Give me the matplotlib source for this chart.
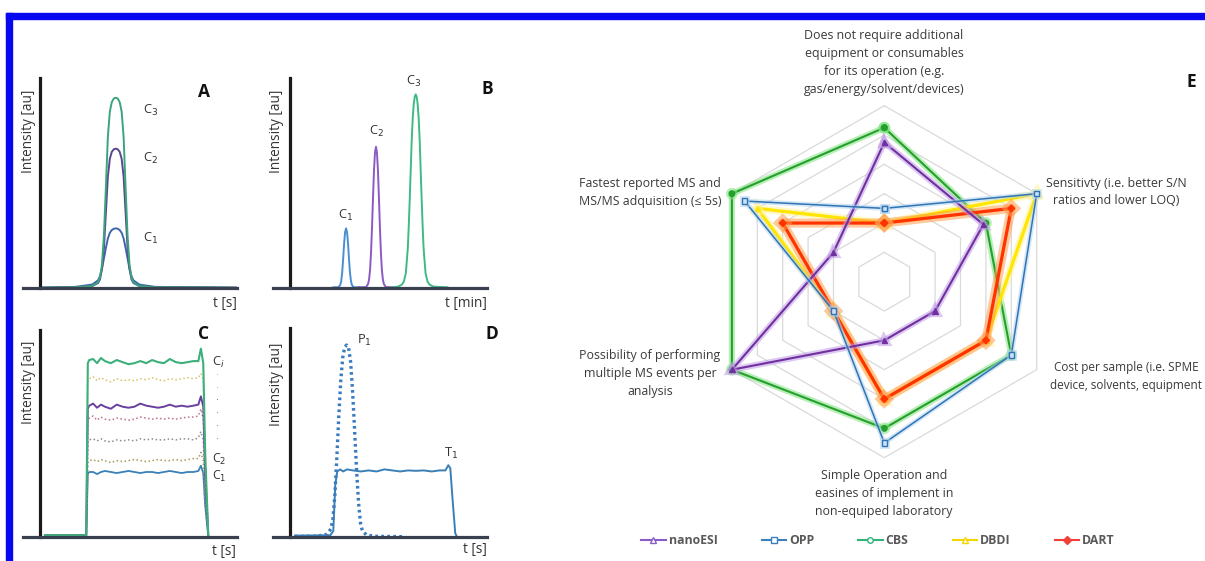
import numpy as np
import matplotlib
matplotlib.use("Agg")
import matplotlib.pyplot as plt
import matplotlib.patheffects as pe
from matplotlib.lines import Line2D
from matplotlib.patches import Rectangle

plt.rcParams['font.family'] = ['Open Sans', 'DejaVu Sans']

W, H = 1205, 561

# =============================================================================
# data, panel A (same retention time, different concentration)
# =============================================================================
a_t = [0, 18, 26.5, 29.5, 30.5, 31.5, 32.5, 33.5, 34.5, 35.5, 36.5, 37.5, 38.5,
       39.5, 40.5, 41.5, 42.5, 43.5, 44.5, 45.5, 46.5, 47.5, 50.5, 58.5, 100]
a_c3 = [0, 0.2, 0.8, 2.5, 5, 11, 25, 48, 72, 84, 88.5, 90.2, 90.6,
        90.2, 88.5, 84, 72, 48, 25, 11, 5, 2.5, 0.8, 0.2, 0]
a_c2 = [0, 0.2, 0.8, 2.2, 4, 9, 19, 36, 53, 61.5, 64.8, 66, 66.3,
        66, 64.8, 61.5, 53, 36, 19, 9, 4, 2.2, 0.8, 0.2, 0]
a_c1 = [0, 0.4, 1.5, 3.5, 5.5, 9, 14, 19, 23.5, 26.2, 27.5, 28.1, 28.3,
        28.1, 27.5, 26.2, 23.5, 19, 14, 9, 5.5, 3.5, 1.5, 0.4, 0]

# =============================================================================
# data, panel B (separated peaks)
# =============================================================================
b_c1_t = [22, 24.5, 25.5, 26, 26.5, 27, 27.5, 28, 28.5, 29, 29.5, 30, 30.5, 31, 31.5, 32.5, 35]
b_c1_i = [0.2, 0.2, 1.2, 3, 7, 13.5, 21, 26.5, 28.3, 26.5, 21, 13.5, 7, 3, 1.2, 0.2, 0.2]
b_c2_t = [35, 38.7, 39.7, 40.2, 40.7, 41.2, 41.7, 42.2, 42.7, 43.2, 43.7, 44.2, 44.7,
          45.2, 45.7, 46.2, 46.7, 47.2, 47.7, 48.7, 52]
b_c2_i = [0.2, 0.3, 1.8, 4, 8.5, 17, 29, 43, 56, 64.5, 67.2, 64.5, 56,
          43, 29, 17, 8.5, 4, 1.8, 0.3, 0.2]
b_c3_t = [52, 54.9, 56.9, 57.9, 58.9, 59.9, 60.4, 60.9, 61.4, 61.9, 62.4, 62.9, 63.4, 63.9,
          64.4, 64.9, 65.4, 65.9, 66.4, 66.9, 67.4, 67.9, 68.9, 69.9, 70.9, 72.9, 80]
b_c3_i = [0.2, 0.5, 1.5, 3, 7, 19, 30, 43, 57, 71, 81, 87.5, 91, 92.2,
          91, 87.5, 81, 71, 57, 43, 30, 19, 7, 3, 1.5, 0.5, 0.2]

# =============================================================================
# data, panel C (continuous infusion, several concentrations)
# =============================================================================
c_t = [2.5, 23.5, 24.3, 25, 27, 29, 31, 33, 36, 39, 42, 45, 48, 51, 54, 57, 60,
       63, 66, 69, 72, 75, 78, 80.5, 81.8, 83, 84, 85.6]
c_green = [1, 1, 84, 85.5, 86, 84, 86.5, 85, 84, 85.5, 84.5, 83.5, 84, 85, 84, 85.5, 84.5,
           84, 86, 84.5, 84, 84.5, 85, 85, 91, 84, 40, 0]
c_yellow = [1, 1, 75, 76.5, 77.5, 75.5, 77, 76, 75, 76.5, 75.5, 76, 75.5, 76.5, 76, 77, 76,
            75.5, 76.5, 76, 76.5, 77, 76.5, 77, 79, 76, 35, 0]
c_purple = [1, 1, 62, 63.5, 64.5, 62.5, 64, 63, 62, 64, 63, 62.5, 63, 64.5, 63.5, 63, 62.5,
            63, 64, 63, 63.5, 63, 63.5, 64, 68, 63, 30, 0]
c_pink = [1, 1, 56, 57.5, 58.5, 56.5, 58, 57, 56.5, 57.5, 57, 56.5, 57, 58, 57.5, 57, 57.5,
          57, 57.5, 57, 57.5, 58, 58, 58.5, 62, 57, 28, 0]
c_gray = [1, 1, 46, 47, 47.5, 46.5, 47.5, 46.5, 46, 47, 46.5, 47, 46.5, 47.5, 47, 47.5, 47,
          47, 47.5, 47, 47.5, 47.5, 47, 48, 51, 47, 23, 0]
c_olive = [1, 1, 36, 37, 37.5, 36.5, 37.5, 37, 36, 37, 36.5, 37, 37.5, 37, 36.5, 37, 37.5,
           37, 37, 37.5, 37, 37.5, 38, 38, 41, 37, 18, 0]
c_blue = [1, 1, 30.5, 31.5, 31.5, 30.5, 31.5, 32, 31.5, 31, 31.5, 32, 31.5, 31, 31.5, 31.5, 31,
          31.5, 32, 31.5, 31, 31.5, 31.5, 32, 34.5, 31, 15, 0]

# =============================================================================
# data, panel D (peak P1 vs. plateau T1)
# =============================================================================
d_t1_t = [2.5, 20.5, 22, 23, 24, 25.5, 27, 29, 32, 36, 40, 44, 48, 52, 56, 60, 64, 68,
          72, 76, 79, 80.5, 81.5, 82.5, 84, 85]
d_t1_i = [0.8, 1, 3, 25, 31.5, 32.5, 31.5, 32.5, 32, 31.5, 32, 31.5, 32.5, 32, 31.5, 32, 31.8, 32,
          31.5, 32, 32, 34.5, 33, 20, 2, 0]
d_p1_t = [2.5, 13.8, 18.8, 20.8, 21.8, 22.8, 23.8, 24.8, 25.8, 26.8, 27.8, 28.8, 29.8,
          30.8, 31.8, 32.8, 33.8, 34.8, 35.8, 36.8, 38.8, 42.8, 57.5]
d_p1_i = [0.5, 0.5, 1.5, 4, 9, 20, 38, 58, 75, 86, 91, 92, 90.5,
          84, 70, 52, 33, 17, 7, 3, 1.2, 0.5, 0.3]

# =============================================================================
# data, panel E (radar)
# =============================================================================
criteria = ["Does not require additional\nequipment or consumables\nfor its operation (e.g.\ngas/energy/solvent/devices)",
            "Sensitivty (i.e. better S/N\nratios and lower LOQ)",
            "Cost per sample (i.e. SPME\ndevice, solvents, equipment",
            "Simple Operation and\neasines of implement in\nnon-equiped laboratory",
            "Possibility of performing\nmultiple MS events per\nanalysis",
            "Fastest reported MS and\nMS/MS adquisition (\u2264 5s)"]
methods = ["nanoESI", "OPP", "CBS", "DBDI", "DART"]
nanoesi = [4.75, 3.9, 2.0, 2.0, 6.0, 2.0]
opp = [2.5, 6.0, 5.0, 5.5, 2.0, 5.5]
cbs = [5.25, 4.0, 5.0, 5.0, 6.0, 6.0]
dbdi = [2.0, 6.0, 4.0, 4.0, 2.0, 5.0]
dart = [2.0, 5.0, 4.0, 4.0, 2.0, 4.0]
rings = [1, 2, 3, 4, 5, 6]

# =============================================================================
# helpers
# =============================================================================
fig = plt.figure(figsize=(W / 100, H / 100), dpi=100)


def box(x0, y0, x1, y1):
    # pixel box (top-left origin) -> figure fraction
    return [x0 / W, 1 - y1 / H, (x1 - x0) / W, (y1 - y0) / H]


def ftext(x, y, s, **kw):
    return fig.text(x / W, 1 - y / H, s, **kw)


def chrom_axes(b):
    ax = fig.add_axes(box(*b))
    ax.set_xlim(-8.5, 100)
    ax.set_ylim(0, 100)
    ax.spines[['top', 'right']].set_visible(False)
    ax.spines['left'].set_position(('data', 0))
    ax.spines['left'].set_linewidth(2.3)
    ax.spines['left'].set_color('#1a1a1a')
    ax.spines['bottom'].set_linewidth(2.3)
    ax.spines['bottom'].set_color('#3b4050')
    ax.set_xticks([])
    ax.set_yticks([])
    ax.patch.set_alpha(0)
    return ax


txt = '#333333'
lab = dict(fontsize=9.8, color=txt)
sub = dict(fontsize=9.3, color=txt)
big = dict(fontsize=12.5, fontweight='bold', color='#111111')

# =============================================================================
# panel A
# =============================================================================
axA = chrom_axes((23.3, 78, 236.7, 287.7))
axA.plot(a_t, a_c1, color='#3d66ad', lw=1.4)
axA.plot(a_t, a_c2, color='#5a4690', lw=1.4)
axA.plot(a_t, a_c3, color='#3aa57a', lw=1.4)
ftext(28, 131, "Intensity [au]", rotation=90, ha='center', va='center', **lab)
ftext(237, 304, "t [s]", ha='right', va='center', **lab)
ftext(204, 92, "A", ha='center', va='center', **big)
ftext(143, 110, "C$_3$", va='center', **sub)
ftext(143, 158, "C$_2$", va='center', **sub)
ftext(143, 238, "C$_1$", va='center', **sub)

# =============================================================================
# panel B
# =============================================================================
axB = chrom_axes((273.3, 78, 486.7, 287.7))
axB.plot(b_c1_t, b_c1_i, color='#4a8fd0', lw=1.4)
axB.plot(b_c2_t, b_c2_i, color='#8a5cc2', lw=1.4)
axB.plot(b_c3_t, b_c3_i, color='#3dba85', lw=1.4)
ftext(277, 131, "Intensity [au]", rotation=90, ha='center', va='center', **lab)
ftext(487, 304, "t [min]", ha='right', va='center', **lab)
ftext(487, 89, "B", ha='center', va='center', **big)
ftext(346, 215, "C$_1$", ha='center', va='center', **sub)
ftext(376, 131, "C$_2$", ha='center', va='center', **sub)
ftext(414, 81, "C$_3$", ha='center', va='center', **sub)

# =============================================================================
# panel C
# =============================================================================
axC = chrom_axes((23.3, 330, 236.7, 537.3))
axC.plot(c_t, c_blue, color='#3a80b8', lw=1.3)
axC.plot(c_t, c_olive, color='#a89a5a', lw=1.1, ls=':')
axC.plot(c_t, c_gray, color='#8c8c8c', lw=1.1, ls=':')
axC.plot(c_t, c_pink, color='#c0708c', lw=1.1, ls=':')
axC.plot(c_t, c_purple, color='#6a3fa0', lw=1.4)
axC.plot(c_t, c_yellow, color='#d9c068', lw=1.1, ls=':')
axC.plot(c_t, c_green, color='#3bb07a', lw=1.5)
ftext(28, 382, "Intensity [au]", rotation=90, ha='center', va='center', **lab)
ftext(236, 551, "t [s]", ha='right', va='center', **lab)
ftext(204, 334, "C", ha='center', va='center', **big)
ftext(212, 362, "C$_i$", va='center', **sub)
for yy, cc in zip([376, 389, 401, 414, 427, 440],
                  ['#d9c068', '#d9c068', '#8a6ab0', '#c0708c', '#8c8c8c', '#8c8c8c']):
    ftext(217, yy, "\u00b7", ha='center', va='center', fontsize=8, color=cc)
ftext(212, 459, "C$_2$", va='center', fontsize=8.8, color=txt)
ftext(212, 476, "C$_1$", va='center', fontsize=8.8, color=txt)

# =============================================================================
# panel D
# =============================================================================
axD = chrom_axes((273.3, 328.3, 486.7, 537.3))
axD.plot(d_t1_t, d_t1_i, color='#3a80b8', lw=1.4)
axD.plot(d_p1_t, d_p1_i, color='#3a7bbf', lw=2.4, ls=(0, (0.8, 1.0)))
ftext(277, 384, "Intensity [au]", rotation=90, ha='center', va='center', **lab)
ftext(487, 550, "t [s]", ha='right', va='center', **lab)
ftext(492, 334, "D", ha='center', va='center', **big)
ftext(357, 340, "P$_1$", va='center', **sub)
ftext(444, 453, "T$_1$", va='center', **sub)

# =============================================================================
# panel E radar
# =============================================================================
cx, cy, half = 884.3, 281.7, 200
rx = fig.add_axes(box(cx - half, cy - half, cx + half, cy + half))
lim = half / 29.33
rx.set_xlim(-lim, lim)
rx.set_ylim(-lim, lim)
rx.set_aspect('equal')
rx.axis('off')

ang = np.deg2rad([90, 30, -30, -90, -150, 150, 90])
for r in rings:
    rx.plot(r * np.cos(ang), r * np.sin(ang), color='#dadada', lw=0.9, zorder=1)

styles = {
    "CBS": dict(vals=cbs, c='#25a02c', halo='#7fe37f', lw=1.5, m='o', ms=4, mfc='#25a02c', hw=4.5),
    "DBDI": dict(vals=dbdi, c='#ffe500', halo='#fff39a', lw=2.3, m='^', ms=4, mfc='#ffe500', hw=5.5),
    "DART": dict(vals=dart, c='#ff3300', halo='#ff9d4a', lw=2.3, m='D', ms=3.5, mfc='#ff3300', hw=6.5),
    "nanoESI": dict(vals=nanoesi, c='#7030a0', halo='#c09be6', lw=1.5, m='^', ms=4, mfc='#7030a0', hw=4.5),
    "OPP": dict(vals=opp, c='#2e75b6', halo='#b3d3f0', lw=1.1, m='s', ms=4, mfc='#cfe2f5', hw=3.5),
}
z = 3
for name in ["CBS", "DBDI", "DART", "nanoESI", "OPP"]:
    s = styles[name]
    v = np.array(s['vals'] + s['vals'][:1])
    rx.plot(v * np.cos(ang), v * np.sin(ang), color=s['c'], lw=s['lw'],
            marker=s['m'], ms=s['ms'], mfc=s['mfc'], mec=s['c'], mew=1.0, zorder=z,
            path_effects=[pe.Stroke(linewidth=s['hw'], foreground=s['halo'], alpha=0.55), pe.Normal()])
    z += 1

rl = dict(fontsize=8.9, color='#3a3a3a', ha='center', va='center', linespacing=1.5)
ftext(884, 62, criteria[0], **rl)
ftext(1116, 192, criteria[1], **rl)
ftext(1126, 376, criteria[2], **dict(rl, fontsize=8.5))
ftext(884, 494, criteria[3], **rl)
ftext(650, 374, criteria[4], **rl)
ftext(650, 192, criteria[5], **rl)
ftext(1191, 82, "E", ha='center', va='center', **big)

# legend
leg_c = {"nanoESI": '#8a5cc8', "OPP": '#3a7fc0', "CBS": '#2fb57a', "DBDI": '#f5d400', "DART": '#f0403a'}
leg_m = {"nanoESI": '^', "OPP": 's', "CBS": 'o', "DBDI": '^', "DART": 'D'}
handles = [Line2D([], [], color=leg_c[m], lw=1.5, marker=leg_m[m], ms=4,
                  mfc='white' if m != "DART" else leg_c[m], mec=leg_c[m], mew=1.0) for m in methods]
fig.legend(handles, methods, loc='center', bbox_to_anchor=(878 / W, 1 - 541 / H), ncol=5,
           frameon=False, columnspacing=3.6, handlelength=2.0, handletextpad=0.25,
           prop=dict(family=['Open Sans', 'DejaVu Sans'], weight='bold', size=8.8), labelcolor='#595959')

# blue frame
fig.patches.append(Rectangle((6 / W, 0), 6 / W, 1 - 13 / H, transform=fig.transFigure,
                             color='#0808f0', zorder=10))
fig.patches.append(Rectangle((6 / W, 1 - 19 / H), 1, 6 / H, transform=fig.transFigure,
                             color='#0808f0', zorder=10))

fig.savefig("out.png", dpi=100, facecolor='white')
